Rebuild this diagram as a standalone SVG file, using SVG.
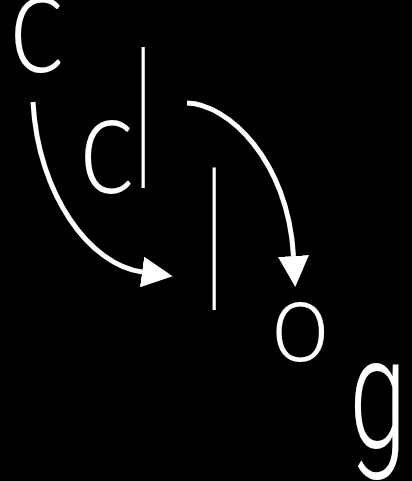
<svg xmlns="http://www.w3.org/2000/svg" width="412" height="481" viewBox="0 0 412 481">
<defs>
<style>
.lt{font-family:Lato,"DejaVu Sans",sans-serif;font-weight:300;fill:#fff;}
.lg{font-family:Roboto,"DejaVu Sans",sans-serif;font-weight:300;fill:#fff;}
.cn{fill:none;stroke:#fff;stroke-width:5;}
</style>
<marker id="ah" viewBox="0 0 31 31" markerUnits="userSpaceOnUse" markerWidth="31" markerHeight="31" refX="0" refY="15.5" orient="auto">
<path d="M0,0 L31,15.5 L0,31 z" fill="#fff"/>
</marker>
</defs>
<rect width="412" height="481" fill="#000"/>
<g id="connectors">
<path class="cn" d="M33,102 C38,195 90,265 142,272" marker-end="url(#ah)"/>
<path class="cn" d="M187,103 C228,104 288,160 293.5,256" marker-end="url(#ah)"/>
</g>
<g id="node-c1"><text class="lt" font-size="80" transform="translate(9,72) scale(1.48,1.85)">c</text></g>
<g id="node-l1"><text class="lt" font-size="65" transform="translate(136,188) scale(1,2.98)">l</text></g>
<g id="node-c2"><text class="lt" font-size="80" transform="translate(79,193) scale(1.48,1.8)">c</text></g>
<g id="node-l2"><text class="lt" font-size="65" transform="translate(207,310) scale(1,3.02)">l</text></g>
<g id="node-o"><text class="lt" font-size="70" transform="translate(271,361) scale(1.5,1.66)">o</text></g>
<g id="node-g"><text class="lg" font-size="70" transform="translate(349.4,446.5) scale(1.46,2.23)">g</text></g>
</svg>
